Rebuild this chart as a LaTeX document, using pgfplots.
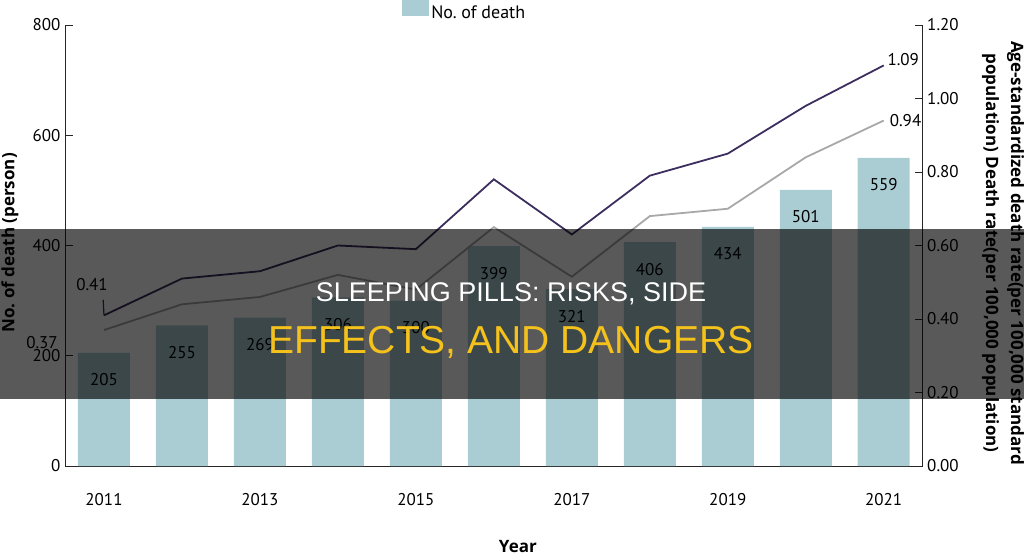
\documentclass[border=0pt]{standalone}
\usepackage{fontspec}
\setmainfont{PT Sans}
\newfontfamily\bannerfont{Liberation Sans}
\newfontfamily\labfont{Open Sans}
\usepackage{pgfplots}
\pgfplotsset{compat=1.18}
\definecolor{barc}{HTML}{AACDD3}
\definecolor{darkl}{HTML}{3C2E5E}
\definecolor{grayl}{HTML}{A8A8A8}
\definecolor{yel}{HTML}{F5C21B}
\begin{document}
\frenchspacing
\begin{tikzpicture}[x=1pt,y=1pt]
\useasboundingbox (0pt,0pt) rectangle (1024pt,554pt);
\begin{axis}[
  at={(65pt,88pt)}, anchor=south west, scale only axis,
  width=857.7pt, height=441pt,
  xmin=2010.5, xmax=2021.5, ymin=0, ymax=800,
  axis y line*=left, axis x line*=bottom,
  axis line style={black!85, line width=0.8pt},
  xtick={2011,2013,...,2021}, ytick={0,200,...,800},
  major x tick style={draw=none},
  tick align=inside, major tick length=8pt,
  tick style={black!85, line width=0.8pt},
  /pgf/number format/assume math mode=true,
  /pgf/number format/1000 sep={},
  tick label style={font=\fontsize{17}{20}\selectfont},
  xticklabel style={yshift=-16pt},
  yticklabel style={xshift=-1pt},
  xlabel={Year},
  xlabel style={at={(axis description cs:0.528,-0.1815)}, anchor=center, font=\labfont\bfseries\fontsize{17}{20}\selectfont},
  ylabel={No.\ of death (person)},
  ylabel style={at={(axis description cs:-0.0641,0.506)}, anchor=center, font=\labfont\bfseries\fontsize{17}{20}\selectfont},
  legend style={at={(axis description cs:0.393,1.045)}, anchor=west, draw=none, fill=none, inner sep=0pt,
    font=\fontsize{18}{20}\selectfont, legend cell align=left},
  ybar, bar width=52pt,
  nodes near coords,
  every node near coord/.append style={anchor=center, yshift=-27pt, font=\fontsize{17}{20}\selectfont, text=black},
  clip=false,
]
\addplot[fill=barc, draw=none, legend image code/.code={\fill[barc] (0pt,-3pt) rectangle (27pt,24pt);}] coordinates {
 (2011,205) (2012,255) (2013,269) (2014,306) (2015,300) (2016,399)
 (2017,321) (2018,406) (2019,434) (2020,501) (2021,559)};
\addlegendentry{No.\ of death}
\end{axis}
\begin{axis}[
  at={(65pt,88pt)}, anchor=south west, scale only axis,
  width=857.7pt, height=441pt,
  xmin=2010.5, xmax=2021.5, ymin=0, ymax=1.2,
  axis y line*=right, axis x line=none,
  axis line style={black!85, line width=0.8pt},
  ytick={0,0.2,...,1.2},
  tick align=inside, major tick length=8pt,
  tick style={black!85, line width=0.8pt},
  /pgf/number format/assume math mode=true,
  yticklabel style={/pgf/number format/fixed, /pgf/number format/fixed zerofill, /pgf/number format/precision=2, font=\fontsize{17}{20}\selectfont, xshift=1pt},
  ylabel={Age-standardized death rate(per 100,000 standard\\population) Death rate(per 100,000 population)},
  ylabel style={at={(axis description cs:1.0936,0.483)}, anchor=center, rotate=180, align=center, font=\labfont\bfseries\fontsize{17}{25}\selectfont},
  clip=false,
]
\addplot[darkl, line width=1.8pt] coordinates {
 (2011,0.41) (2012,0.51) (2013,0.53) (2014,0.60) (2015,0.59) (2016,0.78)
 (2017,0.63) (2018,0.79) (2019,0.85) (2020,0.98) (2021,1.09)};
\addplot[grayl, line width=1.8pt] coordinates {
 (2011,0.37) (2012,0.44) (2013,0.46) (2014,0.52) (2015,0.48) (2016,0.65)
 (2017,0.515) (2018,0.68) (2019,0.70) (2020,0.84) (2021,0.94)};
\draw[darkl, line width=1.2pt] (axis cs:2011,0.41) -- (axis cs:2010.99,0.452);
\node[font=\fontsize{17}{20}\selectfont] at (axis cs:2010.846,0.495) {0.41};
\node[font=\fontsize{17}{20}\selectfont] at (axis cs:2010.205,0.337) {0.37};
\node[font=\fontsize{17}{20}\selectfont] at (axis cs:2021.25,1.105) {1.09};
\node[font=\fontsize{17}{20}\selectfont] at (axis cs:2021.28,0.94) {0.94};
\end{axis}
\fill[black, opacity=0.65] (0pt,155pt) rectangle (1024pt,325pt);
\node[text=white, font=\bannerfont\fontsize{27}{30}\selectfont] at (511pt,260pt) {SLEEPING PILLS: RISKS, SIDE};
\node[text=yel, font=\bannerfont\fontsize{39}{44}\selectfont] at (511pt,212pt) {EFFECTS, AND DANGERS};
\end{tikzpicture}
\end{document}
